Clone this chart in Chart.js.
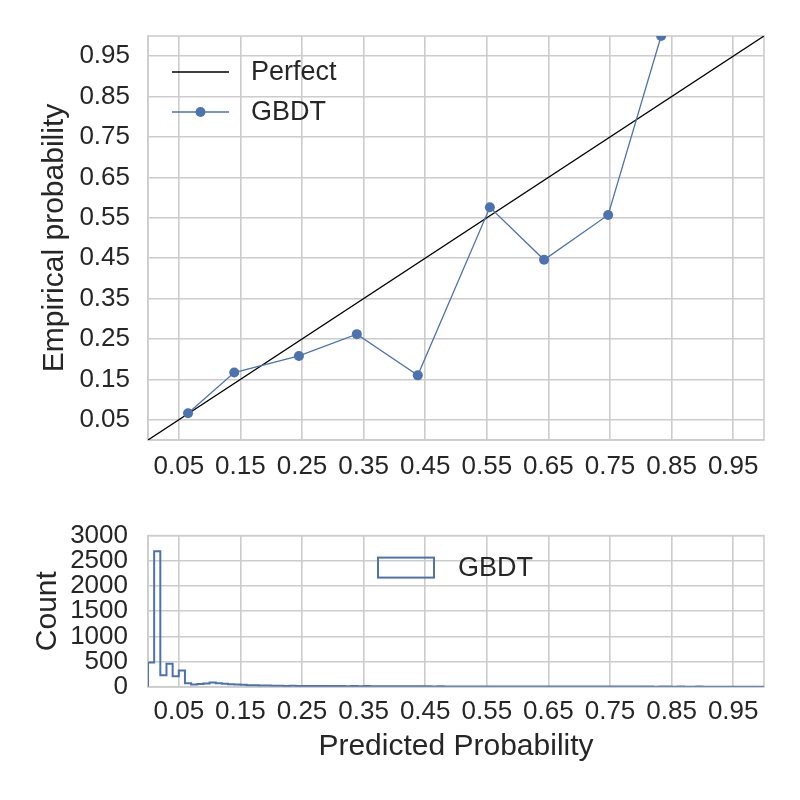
<!DOCTYPE html>
<html>
<head>
<meta charset="utf-8">
<script src="https://cdn.jsdelivr.net/npm/chart.js@4.4.1/dist/chart.umd.min.js"></script>
<style>
  body { margin: 0; background: #fff; }
  #wrap { position: relative; width: 800px; height: 800px; }
  #top { position: absolute; left: 0; top: 0; }
  #hist { position: absolute; left: 0; top: 500px; }
</style>
</head>
<body>
<div id="wrap">
  <canvas id="top" width="800" height="500"></canvas>
  <canvas id="hist" width="800" height="300"></canvas>
</div>
<script>
// calibration curve (mean predicted value vs fraction of positives)
const gbdtX = [0.065, 0.140, 0.245, 0.339, 0.438, 0.555, 0.643, 0.747, 0.833];
const gbdtY = [0.066, 0.167, 0.208, 0.262, 0.160, 0.576, 0.446, 0.557, 1.0];
const perfectX = [0, 1];
const perfectY = [0, 1];

// histogram of predicted probabilities, 100 bins of width 0.01 from 0 to 1
const binWidth = 0.01;
const counts = [
  480, 2690, 225, 455, 205, 320, 70, 45, 55, 65,
  85, 70, 60, 50, 45, 38, 30, 28, 25, 22,
  20, 18, 16, 17, 15, 14, 15, 13, 12, 14,
  12, 13, 11, 12, 10, 12, 11, 10, 9, 11,
  10, 9, 10, 8, 9, 7, 6, 7, 5, 6,
  5, 6, 4, 5, 6, 5, 4, 5, 4, 4,
  4, 3, 4, 3, 3, 4, 3, 2, 3, 3,
  2, 3, 2, 2, 3, 2, 2, 3, 2, 2,
  2, 2, 1, 2, 2, 1, 2, 1, 1, 2,
  1, 1, 1, 1, 0, 1, 0, 0, 0, 0
];

const probTicks = [0.05, 0.15, 0.25, 0.35, 0.45, 0.55, 0.65, 0.75, 0.85, 0.95];
const countTicks = [0, 500, 1000, 1500, 2000, 2500, 3000];

const blue = "#4C72B0";
const gridCol = "#cccccc";
const textCol = "#262626";
const fam = "'Liberation Sans', Arial, sans-serif";

// step outline of the histogram
const histPts = [{ x: 0, y: 0 }];
counts.forEach((c, i) => histPts.push({ x: i * binWidth, y: c }));
histPts.push({ x: counts.length * binWidth, y: counts[counts.length - 1] });
histPts.push({ x: counts.length * binWidth, y: 0 });

const framePlugin = {
  id: "frame",
  beforeDatasetsDraw(chart) {
    const a = chart.chartArea;
    const ctx = chart.ctx;
    ctx.save();
    ctx.strokeStyle = gridCol;
    ctx.lineWidth = 1.6;
    ctx.strokeRect(a.left, a.top, a.right - a.left, a.bottom - a.top);
    ctx.restore();
  }
};

const topLegend = {
  id: "topLegend",
  afterDraw(chart) {
    const a = chart.chartArea;
    const ctx = chart.ctx;
    ctx.save();
    chart.data.datasets.forEach((ds, i) => {
      const y = a.top + 36 + i * 40;
      ctx.strokeStyle = ds.borderColor;
      ctx.lineWidth = ds.borderWidth;
      ctx.beginPath();
      ctx.moveTo(a.left + 24, y);
      ctx.lineTo(a.left + 81, y);
      ctx.stroke();
      if (ds.pointRadius > 0) {
        ctx.fillStyle = ds.backgroundColor;
        ctx.beginPath();
        ctx.arc(a.left + 52.5, y, ds.pointRadius, 0, Math.PI * 2);
        ctx.fill();
      }
      ctx.fillStyle = textCol;
      ctx.font = "27px " + fam;
      ctx.textBaseline = "middle";
      ctx.fillText(ds.label, a.left + 103, y + 1);
    });
    ctx.restore();
  }
};

const histLegend = {
  id: "histLegend",
  afterDraw(chart) {
    const a = chart.chartArea;
    const ctx = chart.ctx;
    const ds = chart.data.datasets[0];
    ctx.save();
    ctx.strokeStyle = ds.borderColor;
    ctx.lineWidth = 2;
    ctx.strokeRect(a.left + 230, a.top + 22, 56, 20);
    ctx.fillStyle = textCol;
    ctx.font = "27px " + fam;
    ctx.textBaseline = "middle";
    ctx.fillText(ds.label, a.left + 310, a.top + 33);
    ctx.restore();
  }
};

function fixedTicks(values) {
  return function (scale) {
    scale.ticks = values.map(v => ({ value: v }));
  };
}

const tickFont = { family: fam, size: 26 };
const titleFont = { family: fam, size: 30 };

new Chart(document.getElementById("top"), {
  type: "line",
  data: {
    datasets: [
      {
        label: "Perfect",
        data: perfectX.map((x, i) => ({ x: x, y: perfectY[i] })),
        borderColor: "#000000",
        backgroundColor: "#000000",
        borderWidth: 1.3,
        pointRadius: 0,
        order: 1
      },
      {
        label: "GBDT",
        data: gbdtX.map((x, i) => ({ x: x, y: gbdtY[i] })),
        borderColor: blue,
        backgroundColor: blue,
        borderWidth: 1.3,
        pointRadius: 5,
        pointBorderWidth: 0,
        clip: 0,
        order: 0
      }
    ]
  },
  options: {
    responsive: false,
    animation: false,
    layout: { padding: { left: 0, right: 36, top: 36, bottom: 0 } },
    plugins: { legend: { display: false }, tooltip: { enabled: false } },
    scales: {
      x: {
        type: "linear",
        min: 0,
        max: 1,
        afterBuildTicks: fixedTicks(probTicks),
        afterFit: s => { s.height = 60; },
        grid: { color: gridCol, lineWidth: 1.6, drawTicks: false },
        border: { color: gridCol, width: 1.6 },
        ticks: {
          color: textCol,
          font: tickFont,
          padding: 11,
          maxRotation: 0,
          autoSkip: false,
          callback: v => v.toFixed(2)
        }
      },
      y: {
        type: "linear",
        min: 0,
        max: 1,
        afterBuildTicks: fixedTicks(probTicks),
        afterFit: s => { s.width = 148; },
        grid: { color: gridCol, lineWidth: 1.6, drawTicks: false },
        border: { color: gridCol, width: 1.6 },
        title: {
          display: true,
          text: "Empirical probability",
          color: textCol,
          font: titleFont,
          padding: { top: 37, bottom: 0 }
        },
        ticks: {
          color: textCol,
          font: tickFont,
          padding: 18,
          autoSkip: false,
          callback: v => v.toFixed(2)
        }
      }
    }
  },
  plugins: [framePlugin, topLegend]
});

new Chart(document.getElementById("hist"), {
  type: "line",
  data: {
    datasets: [
      {
        label: "GBDT",
        data: histPts,
        stepped: "before",
        borderColor: blue,
        backgroundColor: blue,
        borderWidth: 2,
        pointRadius: 0,
        fill: false
      }
    ]
  },
  options: {
    responsive: false,
    animation: false,
    layout: { padding: { left: 0, right: 36, top: 31.7, bottom: 0 } },
    plugins: { legend: { display: false }, tooltip: { enabled: false } },
    scales: {
      x: {
        type: "linear",
        min: 0,
        max: 1,
        afterBuildTicks: fixedTicks(probTicks),
        afterFit: s => { s.height = 113.3; },
        grid: { color: gridCol, lineWidth: 1.6, drawTicks: false },
        border: { color: gridCol, width: 1.6 },
        title: {
          display: true,
          text: "Predicted Probability",
          color: textCol,
          font: titleFont,
          padding: { top: 0, bottom: 35 }
        },
        ticks: {
          color: textCol,
          font: tickFont,
          padding: 10,
          maxRotation: 0,
          autoSkip: false,
          callback: v => v.toFixed(2)
        }
      },
      y: {
        type: "linear",
        min: 0,
        max: 3000,
        afterBuildTicks: fixedTicks(countTicks),
        afterFit: s => { s.width = 148; },
        grid: { color: gridCol, lineWidth: 1.6, drawTicks: false },
        border: { color: gridCol, width: 1.6 },
        title: {
          display: true,
          text: "Count",
          color: textCol,
          font: titleFont,
          padding: { top: 30, bottom: 0 }
        },
        ticks: {
          color: textCol,
          font: tickFont,
          padding: 20,
          autoSkip: false,
          callback: v => String(v)
        }
      }
    }
  },
  plugins: [framePlugin, histLegend]
});
</script>
</body>
</html>
